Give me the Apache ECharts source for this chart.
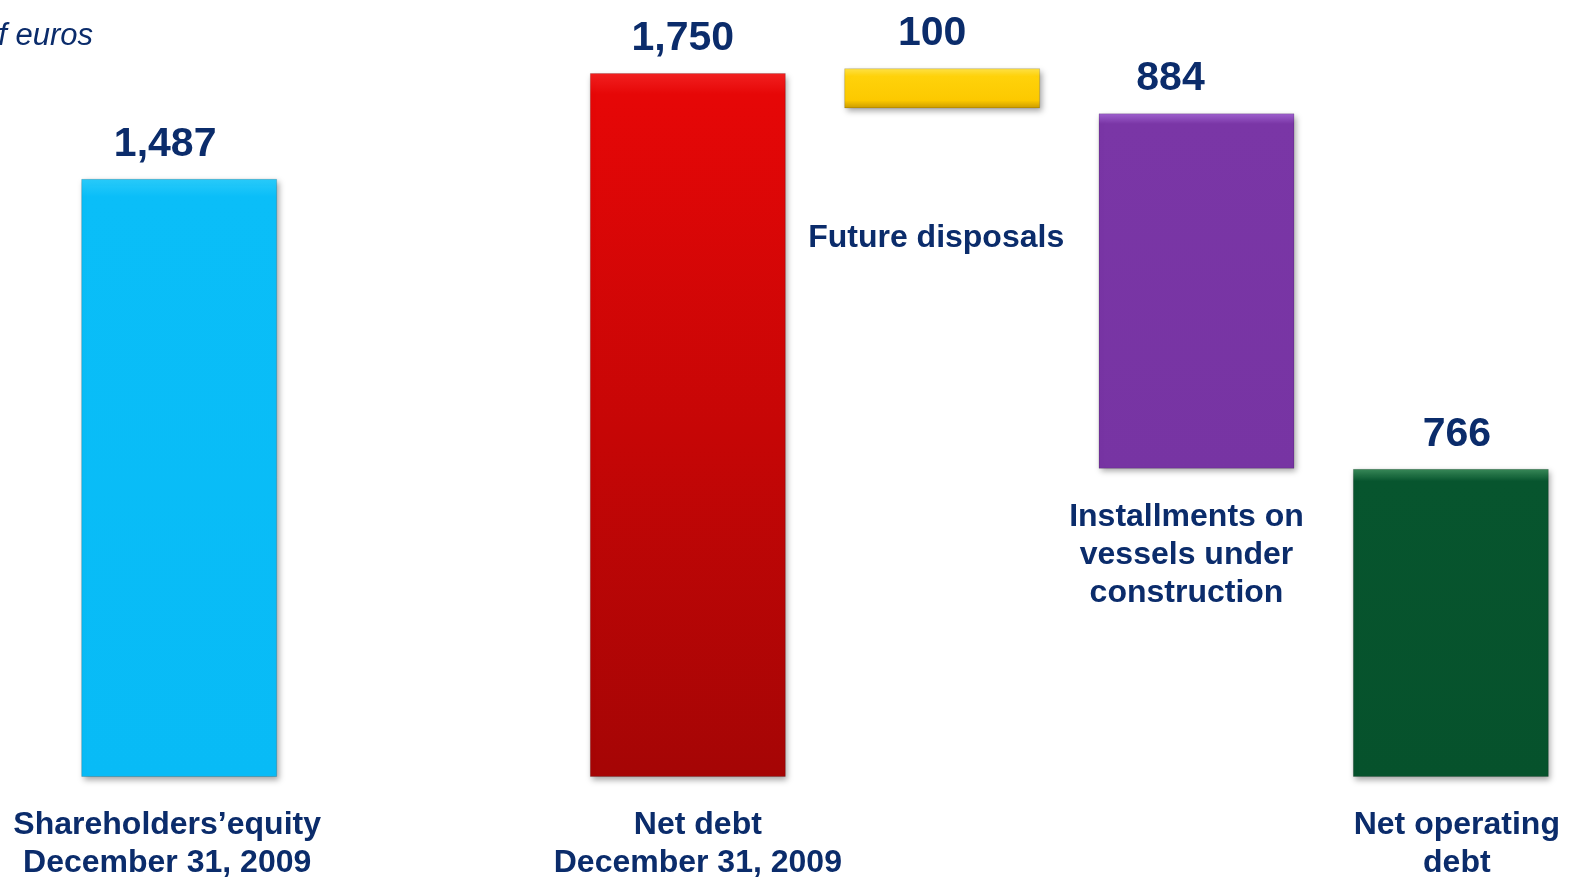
<!DOCTYPE html>
<html>
<head>
<meta charset="utf-8">
<script src="https://cdn.jsdelivr.net/npm/echarts@6/dist/echarts.min.js"></script>
<style>html,body{margin:0;padding:0;background:#fff}#c{width:1569px;height:877px}</style>
</head>
<body>
<div id="c"></div>
<script>
const categories = ["Shareholders’equity\nDecember 31, 2009", "", "Net debt\nDecember 31, 2009", "Future disposals", "Installments on\nvessels under\nconstruction", "Net operating\ndebt"];
const barValues = [1487, null, 1750, 100, 884, 766];
const floatBases = [0, null, 0, 1662, 766, 0];
const valueLabels = ["1,487", "", "1,750", "100", "884", "766"];
const unitNote = "In millions of euros";

const NAVY = '#0B2C6B';
const FONT = '"Liberation Sans", Arial, sans-serif';
const barColors = [
  {type:'linear',x:0,y:0,x2:0,y2:1,colorStops:[{offset:0,color:'#2ACBFA'},{offset:0.03,color:'#0ABEF8'},{offset:1,color:'#08BBF6'}]},
  null,
  {type:'linear',x:0,y:0,x2:0,y2:1,colorStops:[{offset:0,color:'#F22020'},{offset:0.03,color:'#E60707'},{offset:1,color:'#A50505'}]},
  {type:'linear',x:0,y:0,x2:0,y2:1,colorStops:[{offset:0,color:'#FFE34A'},{offset:0.2,color:'#FFD20A'},{offset:0.8,color:'#FCC900'},{offset:1,color:'#C99A00'}]},
  {type:'linear',x:0,y:0,x2:0,y2:1,colorStops:[{offset:0,color:'#A062D0'},{offset:0.03,color:'#7A36A6'},{offset:1,color:'#7734A3'}]},
  {type:'linear',x:0,y:0,x2:0,y2:1,colorStops:[{offset:0,color:'#3A8A5A'},{offset:0.04,color:'#07552E'},{offset:1,color:'#06522C'}]}
];
// layout tweaks (label shifts, pixels)
const axisPad = [[0,24,0,0], null, [0,0,0,20], null, null, [0,0,0,12]];
const floatNameDist = [null, null, null, 111, 29, null];
const floatNameOffset = [null, null, null, -6, -10, null];
const valueLabelOffset = [-14, 0, -5, -10, -26, 6];

const chart = echarts.init(document.getElementById('c'), null, {renderer:'canvas'});

const xData = categories.map((c, i) => {
  const showOnAxis = axisPad[i] !== null;
  return {
    value: showOnAxis ? c : '',
    textStyle: showOnAxis ? {padding: axisPad[i]} : {}
  };
});

const baseData = floatBases.map((b, i) => {
  const item = {value: b};
  if (floatNameDist[i] !== null) {
    item.label = {
      show: true,
      position: 'insideTop',
      distance: floatNameDist[i],
      offset: [floatNameOffset[i], 0],
      formatter: () => categories[i],
      color: NAVY,
      fontFamily: FONT,
      fontWeight: 'bold',
      fontSize: 32,
      lineHeight: 38,
      align: 'center'
    };
  }
  return item;
});

const valData = barValues.map((v, i) => ({
  value: v,
  itemStyle: {color: barColors[i]},
  label: {offset: [valueLabelOffset[i], 0]}
}));

chart.setOption({
  animation: false,
  grid: {left: 52, width: 1526, top: 73, bottom: 100, containLabel: false, outerBoundsMode: 'none'},
  graphic: [{
    type: 'text',
    right: 1569 - 93,
    top: 21,
    style: {text: unitNote, font: 'italic 31px ' + FONT, fill: NAVY}
  }],
  xAxis: {
    type: 'category',
    data: xData,
    axisLine: {show: false},
    axisTick: {show: false},
    axisLabel: {
      interval: 0,
      margin: 29,
      color: NAVY,
      fontFamily: FONT,
      fontWeight: 'bold',
      fontSize: 32,
      lineHeight: 38,
      hideOverlap: false
    }
  },
  yAxis: {
    type: 'value',
    min: 0,
    max: 1750,
    show: false,
    splitLine: {show: false}
  },
  series: [
    {
      type: 'bar',
      stack: 'w',
      barWidth: 196,
      clip: false,
      data: baseData,
      itemStyle: {color: 'transparent'},
      silent: true
    },
    {
      type: 'bar',
      stack: 'w',
      barWidth: 196,
      clip: false,
      data: valData,
      itemStyle: {
        shadowBlur: 6,
        shadowColor: 'rgba(0,0,0,0.35)',
        shadowOffsetX: 2,
        shadowOffsetY: 3,
        borderColor: 'rgba(0,0,0,0.15)',
        borderWidth: 1
      },
      label: {
        show: true,
        position: 'top',
        distance: 14,
        formatter: p => valueLabels[p.dataIndex],
        color: NAVY,
        fontFamily: FONT,
        fontWeight: 'bold',
        fontSize: 41
      }
    }
  ]
});
</script>
</body>
</html>
